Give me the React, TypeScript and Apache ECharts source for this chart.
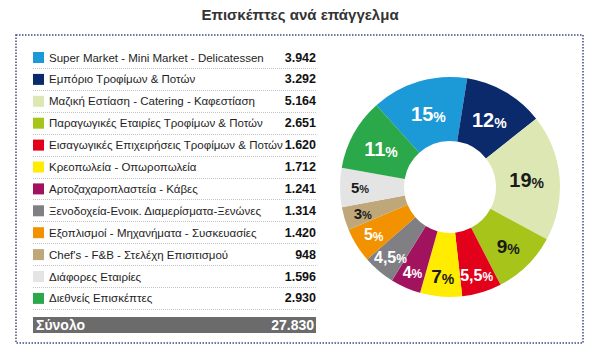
import React, { useEffect, useRef } from "react";
import * as echarts from "echarts";

const TITLE = "Επισκέπτες ανά επάγγελμα";
const categories = [
  "Super Market - Mini Market - Delicatessen",
  "Εμπόριο Τροφίμων & Ποτών",
  "Μαζική Εστίαση - Catering - Καφεστίαση",
  "Παραγωγικές Εταιρίες Τροφίμων & Ποτών",
  "Εισαγωγικές Επιχειρήσεις Τροφίμων & Ποτών",
  "Κρεοπωλεία - Οπωροπωλεία",
  "Αρτοζαχαροπλαστεία - Κάβες",
  "Ξενοδοχεία-Ενοικ. Διαμερίσματα-Ξενώνες",
  "Εξοπλισμοί - Μηχανήματα - Συσκευασίες",
  "Chef's - F&B - Στελέχη Επισιτισμού",
  "Διάφορες Εταιρίες",
  "Διεθνείς Επισκέπτες",
];
const values = [3942, 3292, 5164, 2651, 1620, 1712, 1241, 1314, 1420, 948, 1596, 2930];
const percentLabels = ["15", "12", "19", "9", "5,5", "7", "4", "4,5", "5", "3", "5", "11"];
const colors = [
  "#1b9ad7", "#0b2a6c", "#dde7b4", "#a6c41a", "#e3001b", "#ffec00",
  "#a2135f", "#7f7f84", "#f39200", "#c0a77a", "#e4e4e4", "#2ba84a",
];
const labelColors = [
  "#ffffff", "#ffffff", "#1a1a1a", "#1a1a1a", "#ffffff", "#1a1a1a",
  "#ffffff", "#ffffff", "#ffffff", "#1a1a1a", "#1a1a1a", "#ffffff",
];
const labelSizes = [20, 20, 20, 19, 16, 19, 16, 16, 16, 15, 15, 20];
const labelRadius = [76, 78, 77, 83, 92, 90, 93, 92, 90, 91, 90, 79];
const TOTAL_LABEL = "Σύνολο";

const fmt = (n: number) => n.toString().replace(/\B(?=(\d{3})+(?!\d))/g, ".");

export default function App() {
  const ref = useRef<HTMLDivElement>(null);
  useEffect(() => {
    if (!ref.current) return;
    const chart = echarts.init(ref.current, null, { renderer: "svg" });
    const total = values.reduce((a, b) => a + b, 0);
    const font = "'Liberation Sans', Arial, sans-serif";
    const labelFont = "'Liberation Sans', Arial, sans-serif";

    const rowTop = 51;
    const itemH = 13;
    const gap = 8.9;
    const rowH = itemH + gap;
    const left = 33;
    const right = 316;
    const cx = 450;
    const cy = 187;

    const separators = categories.map((_, i) => {
      const y = Math.round(rowTop + itemH / 2 + i * rowH + 10.5) + 0.5;
      return {
        type: "line",
        silent: true,
        shape: { x1: left, y1: y, x2: right, y2: y },
        style: { stroke: "#c4c4c4", lineWidth: 1, lineDash: [1, 1] },
      };
    });

    chart.setOption({
      animation: false,
      backgroundColor: "#ffffff",
      title: {
        text: TITLE,
        left: "center",
        top: 2,
        textStyle: { fontFamily: font, fontSize: 15, fontWeight: "bold", color: "#333333" },
      },
      legend: {
        orient: "vertical",
        left: left,
        top: rowTop,
        padding: 0,
        icon: "rect",
        itemWidth: 11,
        itemHeight: 11,
        itemGap: gap,
        selectedMode: false,
        data: categories,
        formatter: (name: string) => {
          const i = categories.indexOf(name);
          return `{n|${name}}{v|${fmt(values[i])}}`;
        },
        textStyle: {
          rich: {
            n: { width: 229, fontSize: 11.5, lineHeight: 13, fontFamily: font, color: "#1e1e1e" },
            v: { width: 38, align: "right", fontSize: 12.5, lineHeight: 13, fontWeight: "bold", fontFamily: font, color: "#111111" },
          },
        },
      },
      graphic: [
        {
          type: "rect",
          silent: true,
          shape: { x: 16, y: 35, width: 567, height: 308 },
          style: { fill: "none", stroke: "#3d4a86", lineWidth: 1.5, lineDash: [1.5, 1.5] },
        },
        ...separators,
        {
          type: "rect",
          silent: true,
          shape: { x: left, y: 317, width: right - left, height: 16 },
          style: { fill: "#6b6b6b" },
        },
        {
          type: "text",
          silent: true,
          x: left + 3,
          y: 325,
          style: { text: TOTAL_LABEL, fill: "#ffffff", font: `bold 14px ${font}`, textVerticalAlign: "middle" },
        },
        {
          type: "text",
          silent: true,
          x: right - 2,
          y: 325,
          style: { text: fmt(total), fill: "#ffffff", font: `bold 14px ${font}`, textAlign: "right", textVerticalAlign: "middle" },
        },
      ],
      series: [
        {
          type: "pie",
          center: [cx, cy],
          radius: [46, 110],
          startAngle: 132,
          clockwise: true,
          avoidLabelOverlap: false,
          label: {
            show: true,
            position: "inside",
          },
          labelLayout: (params: any) => {
            const r = params.labelRect;
            const lx = r.x + r.width / 2;
            const ly = r.y + r.height / 2;
            const a = Math.atan2(ly - cy, lx - cx);
            const rad = labelRadius[params.dataIndex];
            return {
              x: cx + rad * Math.cos(a),
              y: cy + rad * Math.sin(a),
              align: "center",
              verticalAlign: "middle",
              hideOverlap: false,
            };
          },
          labelLine: { show: false },
          emphasis: { disabled: true },
          data: categories.map((name, i) => ({
            name,
            value: values[i],
            itemStyle: { color: colors[i] },
            label: {
              formatter: `{n|${percentLabels[i]}}{p|%}`,
              rich: {
                n: { fontSize: labelSizes[i], fontWeight: "bold", fontFamily: labelFont, color: labelColors[i] },
                p: { fontSize: Math.round(labelSizes[i] * 0.72), fontWeight: "bold", fontFamily: labelFont, color: labelColors[i], verticalAlign: "bottom" },
              },
            },
          })),
        },
      ],
    });
    return () => chart.dispose();
  }, []);
  return <div ref={ref} style={{ position: "absolute", left: 0, top: 0, width: 600, height: 364 }} />;
}
